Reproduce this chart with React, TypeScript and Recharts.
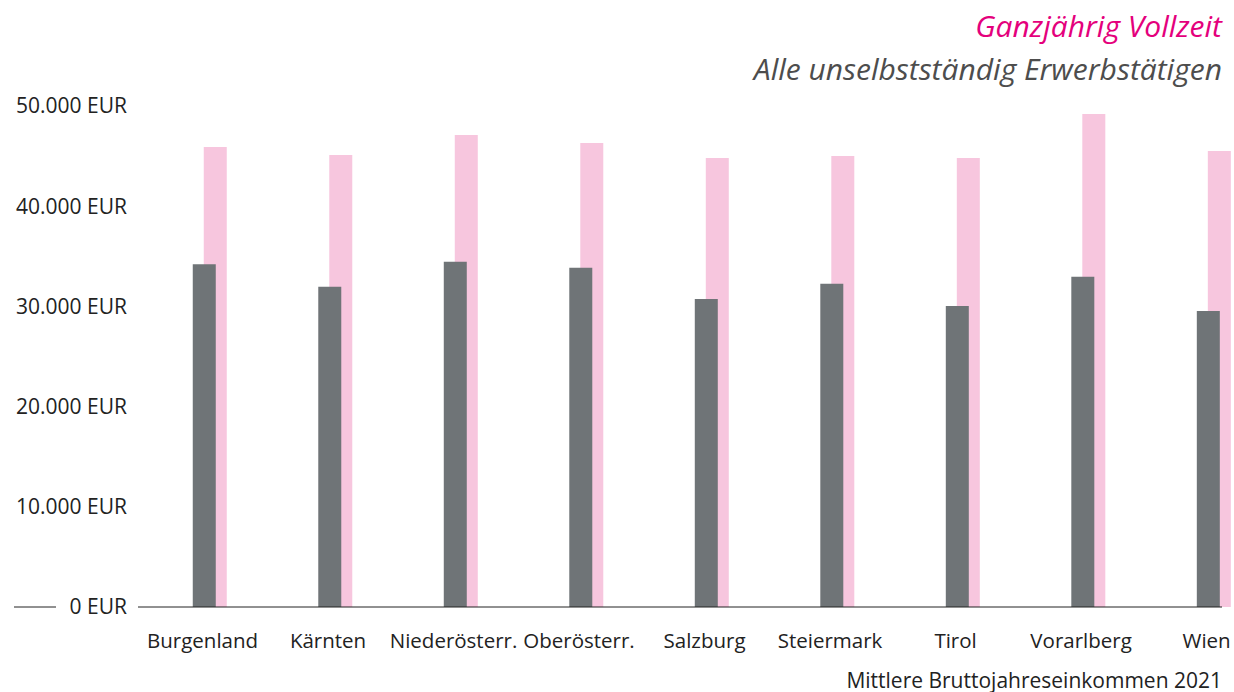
import { BarChart, Bar, XAxis, YAxis, Rectangle } from "recharts";

const regions = ["Burgenland", "Kärnten", "Niederösterr.", "Oberösterr.", "Salzburg", "Steiermark", "Tirol", "Vorarlberg", "Wien"];
const alleErwerbstaetigen = [34200, 31950, 34450, 33850, 30750, 32250, 30050, 32950, 29550];
const ganzjaehrigVollzeit = [45900, 45100, 47100, 46300, 44800, 45000, 44800, 49200, 45500];
const yTicks = [0, 10000, 20000, 30000, 40000, 50000];

const data = regions.map((name, i) => ({
  idx: i,
  name,
  alle: alleErwerbstaetigen[i],
  vollzeit: ganzjaehrigVollzeit[i],
}));

const FONT = "'Open Sans', sans-serif";
const GREY = "#6f7477";
const PINK = "#f7c6de";
const X_DOMAIN = [-0.53, 8.107];

const fmtEur = (v: number) => `${v.toLocaleString("de-DE")} EUR`;

const YTick = ({ x, y, payload }: any) => (
  <g>
    {payload.value === 0 && <line x1={14} x2={56} y1={y} y2={y} stroke="#222" strokeWidth={1} />}
    <text x={x - 1} y={y} dy="0.35em" textAnchor="end" fill="#222" fontSize={21} fontFamily={FONT}>
      {fmtEur(payload.value)}
    </text>
  </g>
);

const XTick = ({ x, y, payload }: any) => (
  <text x={x - 2} y={y} dy="0.71em" textAnchor="middle" fill="#222" fontSize={20.5} fontFamily={FONT}>
    {regions[payload.value]}
  </text>
);

// pink bar sits a bit to the right, partly behind the grey one
const ShiftedBar = (props: any) => <Rectangle {...props} x={props.x + 11} />;

export default function App() {
  return (
    <div style={{ position: "absolute", left: 0, top: 0, width: 1234, height: 692, background: "#fff", fontFamily: FONT }}>
      <div style={{ position: "absolute", right: 12, top: 7, fontSize: 30, fontStyle: "italic", color: "#e4007c", lineHeight: "38px" }}>
        Ganzjährig Vollzeit
      </div>
      <div style={{ position: "absolute", right: 12, top: 50, fontSize: 30, fontStyle: "italic", color: "#4d4d4d", lineHeight: "38px" }}>
        Alle unselbstständig Erwerbstätigen
      </div>
      <BarChart width={1234} height={692} data={data} margin={{ top: 106, right: 12, bottom: 0, left: 0 }} accessibilityLayer={false}>
        <XAxis
          xAxisId="a"
          dataKey="idx"
          type="number"
          domain={X_DOMAIN}
          ticks={[0, 1, 2, 3, 4, 5, 6, 7, 8]}
          interval={0}
          axisLine={{ stroke: "#222", strokeWidth: 1 }}
          tickLine={false}
          tickSize={0}
          tickMargin={26}
          tick={<XTick />}
          height={85}
        />
        <XAxis xAxisId="b" dataKey="idx" type="number" domain={X_DOMAIN} hide height={0} />
        <YAxis
          type="number"
          domain={[0, 50000]}
          ticks={yTicks}
          interval={0}
          axisLine={false}
          tickLine={false}
          tickSize={0}
          tickMargin={10}
          width={138}
          tick={<YTick />}
        />
        <Bar xAxisId="b" dataKey="vollzeit" fill={PINK} barSize={23} shape={<ShiftedBar />} isAnimationActive={false} />
        <Bar xAxisId="a" dataKey="alle" fill={GREY} barSize={23} isAnimationActive={false} />
      </BarChart>
      <div style={{ position: "absolute", right: 12, top: 670, fontSize: 21, color: "#222", lineHeight: "20px" }}>
        Mittlere Bruttojahreseinkommen 2021
      </div>
    </div>
  );
}
